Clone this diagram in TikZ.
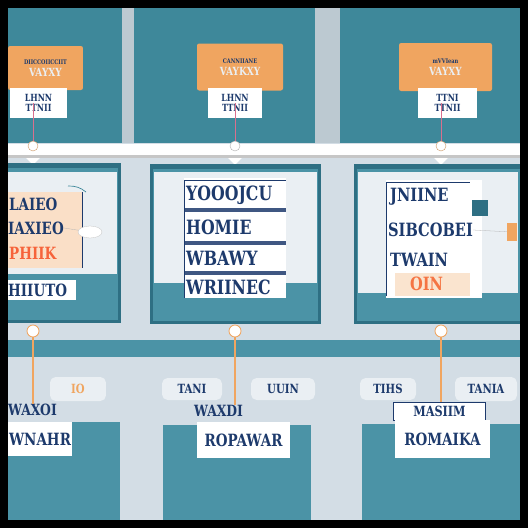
\documentclass[tikz,border=0pt]{standalone}
\usepackage{fontspec}
\setmainfont{DejaVu Sans}
\newfontfamily\heavy[FakeStretch=0.8]{DejaVu Serif}
\usetikzlibrary{positioning, shapes.geometric}
\definecolor{teal1}{HTML}{3E889A}
\definecolor{teal2}{HTML}{4B93A6}
\definecolor{tealdk}{HTML}{2E6F83}
\definecolor{bgc}{HTML}{D3DDE5}
\definecolor{gapc}{HTML}{BCC9D1}
\definecolor{orng}{HTML}{F0A560}
\definecolor{inkb}{HTML}{1D3A6C}
\definecolor{pinkl}{HTML}{D9708E}
\definecolor{paper}{HTML}{EAEFF3}

\begin{document}
\begin{tikzpicture}[x=0.05cm,y=-0.05cm]
  \tikzstyle{tag}=[fill=orng,rounded corners=3pt,inner sep=0pt,align=center,font=\heavy\bfseries\fontsize{9}{10}\selectfont]
  \tikzstyle{chip}=[fill=white,inner sep=0pt,align=center,text=inkb,font=\heavy\bfseries\fontsize{14}{15}\selectfont]
  \tikzstyle{knob}=[circle,draw=orng,fill=white,line width=1.2pt,minimum size=0.6cm,inner sep=0pt]
  \tikzstyle{rivet}=[circle,draw=gray!60,fill=white,line width=0.6pt,minimum size=0.5cm,inner sep=0pt]
  \tikzstyle{pin}=[diamond,fill=white,minimum size=1.2cm,inner sep=0pt]
  \tikzstyle{word}=[text=inkb,inner sep=0pt,anchor=west,font=\heavy\bfseries\fontsize{28}{28}\selectfont]
  \tikzstyle{wordsm}=[word,font=\heavy\bfseries\fontsize{26}{26}\selectfont]
  \tikzstyle{wordxs}=[word,font=\heavy\bfseries\fontsize{24}{24}\selectfont]
  \tikzstyle{bubble}=[fill=paper,rounded corners=8pt,inner sep=0pt,text=inkb,font=\heavy\bfseries\fontsize{18}{18}\selectfont]
  \tikzstyle{slab}=[fill=white,inner sep=0pt,text=inkb,font=\heavy\bfseries\fontsize{24}{24}\selectfont]
  \useasboundingbox (0,0) rectangle (528,528);
  \fill[black] (0,0) rectangle (528,528);
  \fill[bgc] (8,8) rectangle (520,520);

  % top panels
  \fill[gapc] (8,8) rectangle (520,143);
  \fill[teal1] (8,8) rectangle (122,143);
  \fill[teal1] (134,8) rectangle (315,143);
  \fill[teal1] (340,8) rectangle (520,143);

  % tags hanging on the rail
  \node[tag,minimum width=3.75cm,minimum height=2.2cm] (t1) at (45.5,68)
    {\textcolor{inkb}{DIICCOIICCIIT}\\[5pt]\textcolor{paper}{\fontsize{16}{16}\selectfont VAYXY}};
  \node[tag,minimum width=4.3cm,minimum height=2.35cm] (t2) at (240,67)
    {\textcolor{inkb}{CANNIIANE}\\[5pt]\textcolor{paper}{\fontsize{16}{16}\selectfont VAYKXY}};
  \node[tag,minimum width=4.65cm,minimum height=2.4cm] (t3) at (445.5,67)
    {\textcolor{inkb}{mVVIean}\\[5pt]\textcolor{paper}{\fontsize{16}{16}\selectfont VAYXY}};
  \node[chip,minimum width=2.85cm,minimum height=1.5cm] (c1) at (38.5,103) {LHNN\\TTNII};
  \node[chip,minimum width=2.7cm,minimum height=1.5cm] (c2) at (235,103) {LHNN\\TTNII};
  \node[chip,minimum width=2.95cm,minimum height=1.5cm] (c3) at (447.5,103) {TTNI\\TTNII};

  % rail
  \node[pin] (p1) at (33,153) {};
  \node[pin] (p2) at (235,153) {};
  \node[pin] (p3) at (441,153) {};
  \fill[gray!45] (8,155) rectangle (520,158);
  \fill[white] (8,144) rectangle (520,155);
  \node[rivet,draw=orng!70!gray] (k1) at (33,146) {};
  \node[rivet] (k2) at (235,146) {};
  \node[rivet,draw=orng!70!gray] (k3) at (441,146) {};
  \draw[pinkl,line width=1pt] (k1 |- c1.center) -- (k1);
  \draw[pinkl,line width=1pt] (k2 |- c2.center) -- (k2);
  \draw[pinkl,line width=1pt] (k3 |- c3.center) -- (k3);

  % middle frames
  \fill[tealdk] (8,163) rectangle (121,323);
  \fill[teal2] (8,168) rectangle (118,320);
  \fill[paper] (8,172) rectangle (117,274);
  \fill[tealdk] (150,164) rectangle (321,324);
  \fill[teal2] (153,169) rectangle (318,321);
  \fill[paper] (154,172) rectangle (317,283);
  \fill[tealdk] (354,164) rectangle (520,324);
  \fill[teal2] (357,169) rectangle (520,321);
  \fill[paper] (358,172) rectangle (518,293);

  % card in frame 1
  \fill[orng!35] (8,192) rectangle (82,268);
  \fill[white] (8,280) rectangle (76,300);
  \draw[inkb,line width=1.2pt] (82,192) -- (82,268);
  \draw[teal1,line width=1pt] (68,186) to[bend left=20] (86,192);
  \node[ellipse,fill=white,draw=gray!50,minimum width=1.2cm,minimum height=0.6cm] (b1) at (90,232) {};
  \node[wordxs] (w11) at (9,204) {LAIEO};
  \node[wordxs] (w12) at (8,228) {IAXIEO};
  \node[wordxs,text=orng!60!red] (w13) at (9,253) {PHIIK};
  \node[wordxs] (w14) at (8,290) {HIIUTO};
  \draw[gray!60] (w12.east) -- (b1);

  % card in frame 2
  \fill[white] (184,178) rectangle (286,298);
  \fill[inkb!85] (184,208) rectangle (286,212);
  \fill[inkb!85] (184,241) rectangle (286,245);
  \fill[inkb!85] (184,271) rectangle (286,275);
  \draw[inkb,line width=1.2pt] (184,298) -- (184,180) -- (286,180);
  \node[word] (w21) at (186,195) {YOOOJCU};
  \node[word] (w22) at (186,227) {HOMIE};
  \node[word] (w23) at (186,258) {WBAWY};
  \node[word] (w24) at (186,287) {WRIINEC};

  % card in frame 3
  \fill[white] (386,180) rectangle (482,298);
  \fill[orng!30] (395,273) rectangle (470,296);
  \fill[tealdk] (472,200) rectangle (488,216);
  \draw[inkb,line width=1.2pt] (386,296) -- (386,182) -- (470,182);
  \node[fill=orng,minimum width=0.5cm,minimum height=0.9cm,inner sep=0pt] (o3) at (512,232) {};
  \node[wordsm] (w31) at (390,197) {JNIINE};
  \node[wordsm] (w32) at (388,230) {SIBCOBEI};
  \node[wordsm] (w33) at (390,260) {TWAIN};
  \node[wordsm,text=orng!70!red] (w34) at (410,284) {OIN};
  \draw[gray!60] (w32.east) -- (o3);

  % lower band and drop lines
  \fill[teal2] (8,340) rectangle (520,357);
  \node[knob] (m1) at (33,331) {};
  \node[knob] (m2) at (235,331) {};
  \node[knob] (m3) at (441,331) {};

  % bottom blocks
  \fill[teal2] (8,422) rectangle (120,520);
  \fill[teal2] (163,425) rectangle (311,520);
  \fill[teal2] (362,424) rectangle (520,520);

  % bottom labels
  \node[bubble,minimum width=2.8cm,minimum height=1.2cm] (q1) at (78,389) {\textcolor{orng}{IO}};
  \node[wordxs,font=\heavy\bfseries\fontsize{22}{22}\selectfont] (x1) at (8,410) {WAXOI};
  \node[slab,minimum width=3.2cm,minimum height=1.7cm] (s1) at (40,439) {WNAHR};
  \node[bubble,minimum width=3cm,minimum height=1.1cm] (q2) at (192,389) {TANI};
  \node[bubble,minimum width=3.2cm,minimum height=1.1cm] (q3) at (283,389) {UUIN};
  \node[wordxs,font=\heavy\bfseries\fontsize{22}{22}\selectfont] (x2) at (194,411) {WAXDI};
  \node[slab,minimum width=4.7cm,minimum height=1.8cm] (s2) at (243.5,440) {ROPAWAR};
  \node[bubble,minimum width=2.8cm,minimum height=1.1cm] (q4) at (388,389) {TIHS};
  \node[bubble,minimum width=3.1cm,minimum height=1.2cm] (q5) at (486,389) {TANIA};
  \node[slab,draw=inkb,line width=1.2pt,minimum width=4.6cm,minimum height=0.9cm,font=\heavy\bfseries\fontsize{20}{20}\selectfont] (x3) at (439.5,411) {MASIIM};
  \node[slab,minimum width=4.75cm,minimum height=1.9cm] (s3) at (442.5,439) {ROMAIKA};

  % connectors from band to labels
  \draw[orng,line width=1.5pt] (m1) -- (m1 |- x1.north);
  \draw[orng,line width=1.5pt] (m2) -- (x2.north -| m2);
  \draw[orng,line width=1.5pt] (m3) -- (m3 |- x3.north);
\end{tikzpicture}
\end{document}
